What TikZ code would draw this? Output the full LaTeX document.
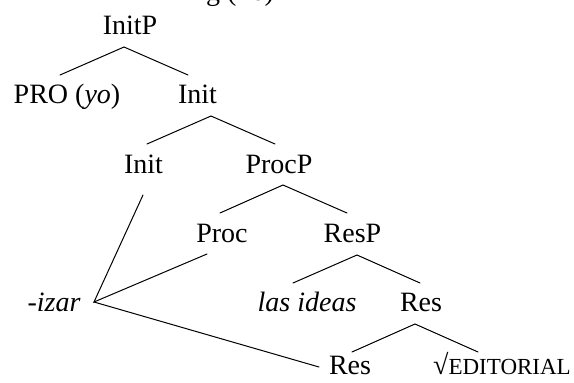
\documentclass[tikz,border=0pt]{standalone}
\usepackage{fontspec}
\setmainfont{Liberation Serif}
\begin{document}
\begin{tikzpicture}[x=1pt,y=-1pt,
  lbl/.style={anchor=base, inner sep=0pt, font=\fontsize{28}{34}\selectfont},
  edge/.style={line width=1pt, line cap=round}]
\useasboundingbox (0,0) rectangle (574,383);
% clipped heading fragment at the top
\node[lbl, anchor=base west] (head) at (206,0) {g (26)};
% tree labels
\node[lbl] (initP) at (130,34.5) {InitP};
\node[lbl] (pro) at (67,103) {PRO (\textit{yo})};
\node[lbl] (initA) at (197.5,103) {Init};
\node[lbl] (initB) at (143.5,173) {Init};
\node[lbl] (procP) at (279,173) {ProcP};
\node[lbl] (proc) at (222,242) {Proc};
\node[lbl] (resP) at (352.5,242) {ResP};
\node[lbl] (izar) at (54,311) {\textit{-izar}};
\node[lbl] (ideas) at (307,311) {\textit{las ideas}};
\node[lbl] (resA) at (421,311) {Res};
\node[lbl] (resB) at (350,374) {Res};
\node[lbl] (root) at (502,374) {√{\fontsize{23}{28}\selectfont EDITORIAL}};
% attachment points
\coordinate (initP-b) at (124,47);
\coordinate (pro-t) at (60,75);
\coordinate (initA-t) at (188,75);
\coordinate (initA-b) at (211,116);
\coordinate (initB-t) at (147,144);
\coordinate (procP-t) at (275,144);
\coordinate (procP-b) at (283,185);
\coordinate (proc-t) at (220,213);
\coordinate (resP-t) at (347,213);
\coordinate (resP-b) at (357,255);
\coordinate (ideas-t) at (293,283);
\coordinate (resA-t) at (420,283);
\coordinate (resA-b) at (415,324);
\coordinate (resB-t) at (352,352);
\coordinate (root-t) at (478,352);
\coordinate (initB-b) at (143,195);
\coordinate (proc-b) at (207,254);
\coordinate (izar-e) at (94,302);
\coordinate (resB-w) at (319,367);
% branches
\draw[edge] (pro-t) -- (initP-b) -- (initA-t);
\draw[edge] (initB-t) -- (initA-b) -- (procP-t);
\draw[edge] (proc-t) -- (procP-b) -- (resP-t);
\draw[edge] (ideas-t) -- (resP-b) -- (resA-t);
\draw[edge] (resB-t) -- (resA-b) -- (root-t);
% head movement lines
\draw[edge] (initB-b) -- (izar-e) -- (proc-b);
\draw[edge] (izar-e) -- (resB-w);
\end{tikzpicture}
\end{document}
